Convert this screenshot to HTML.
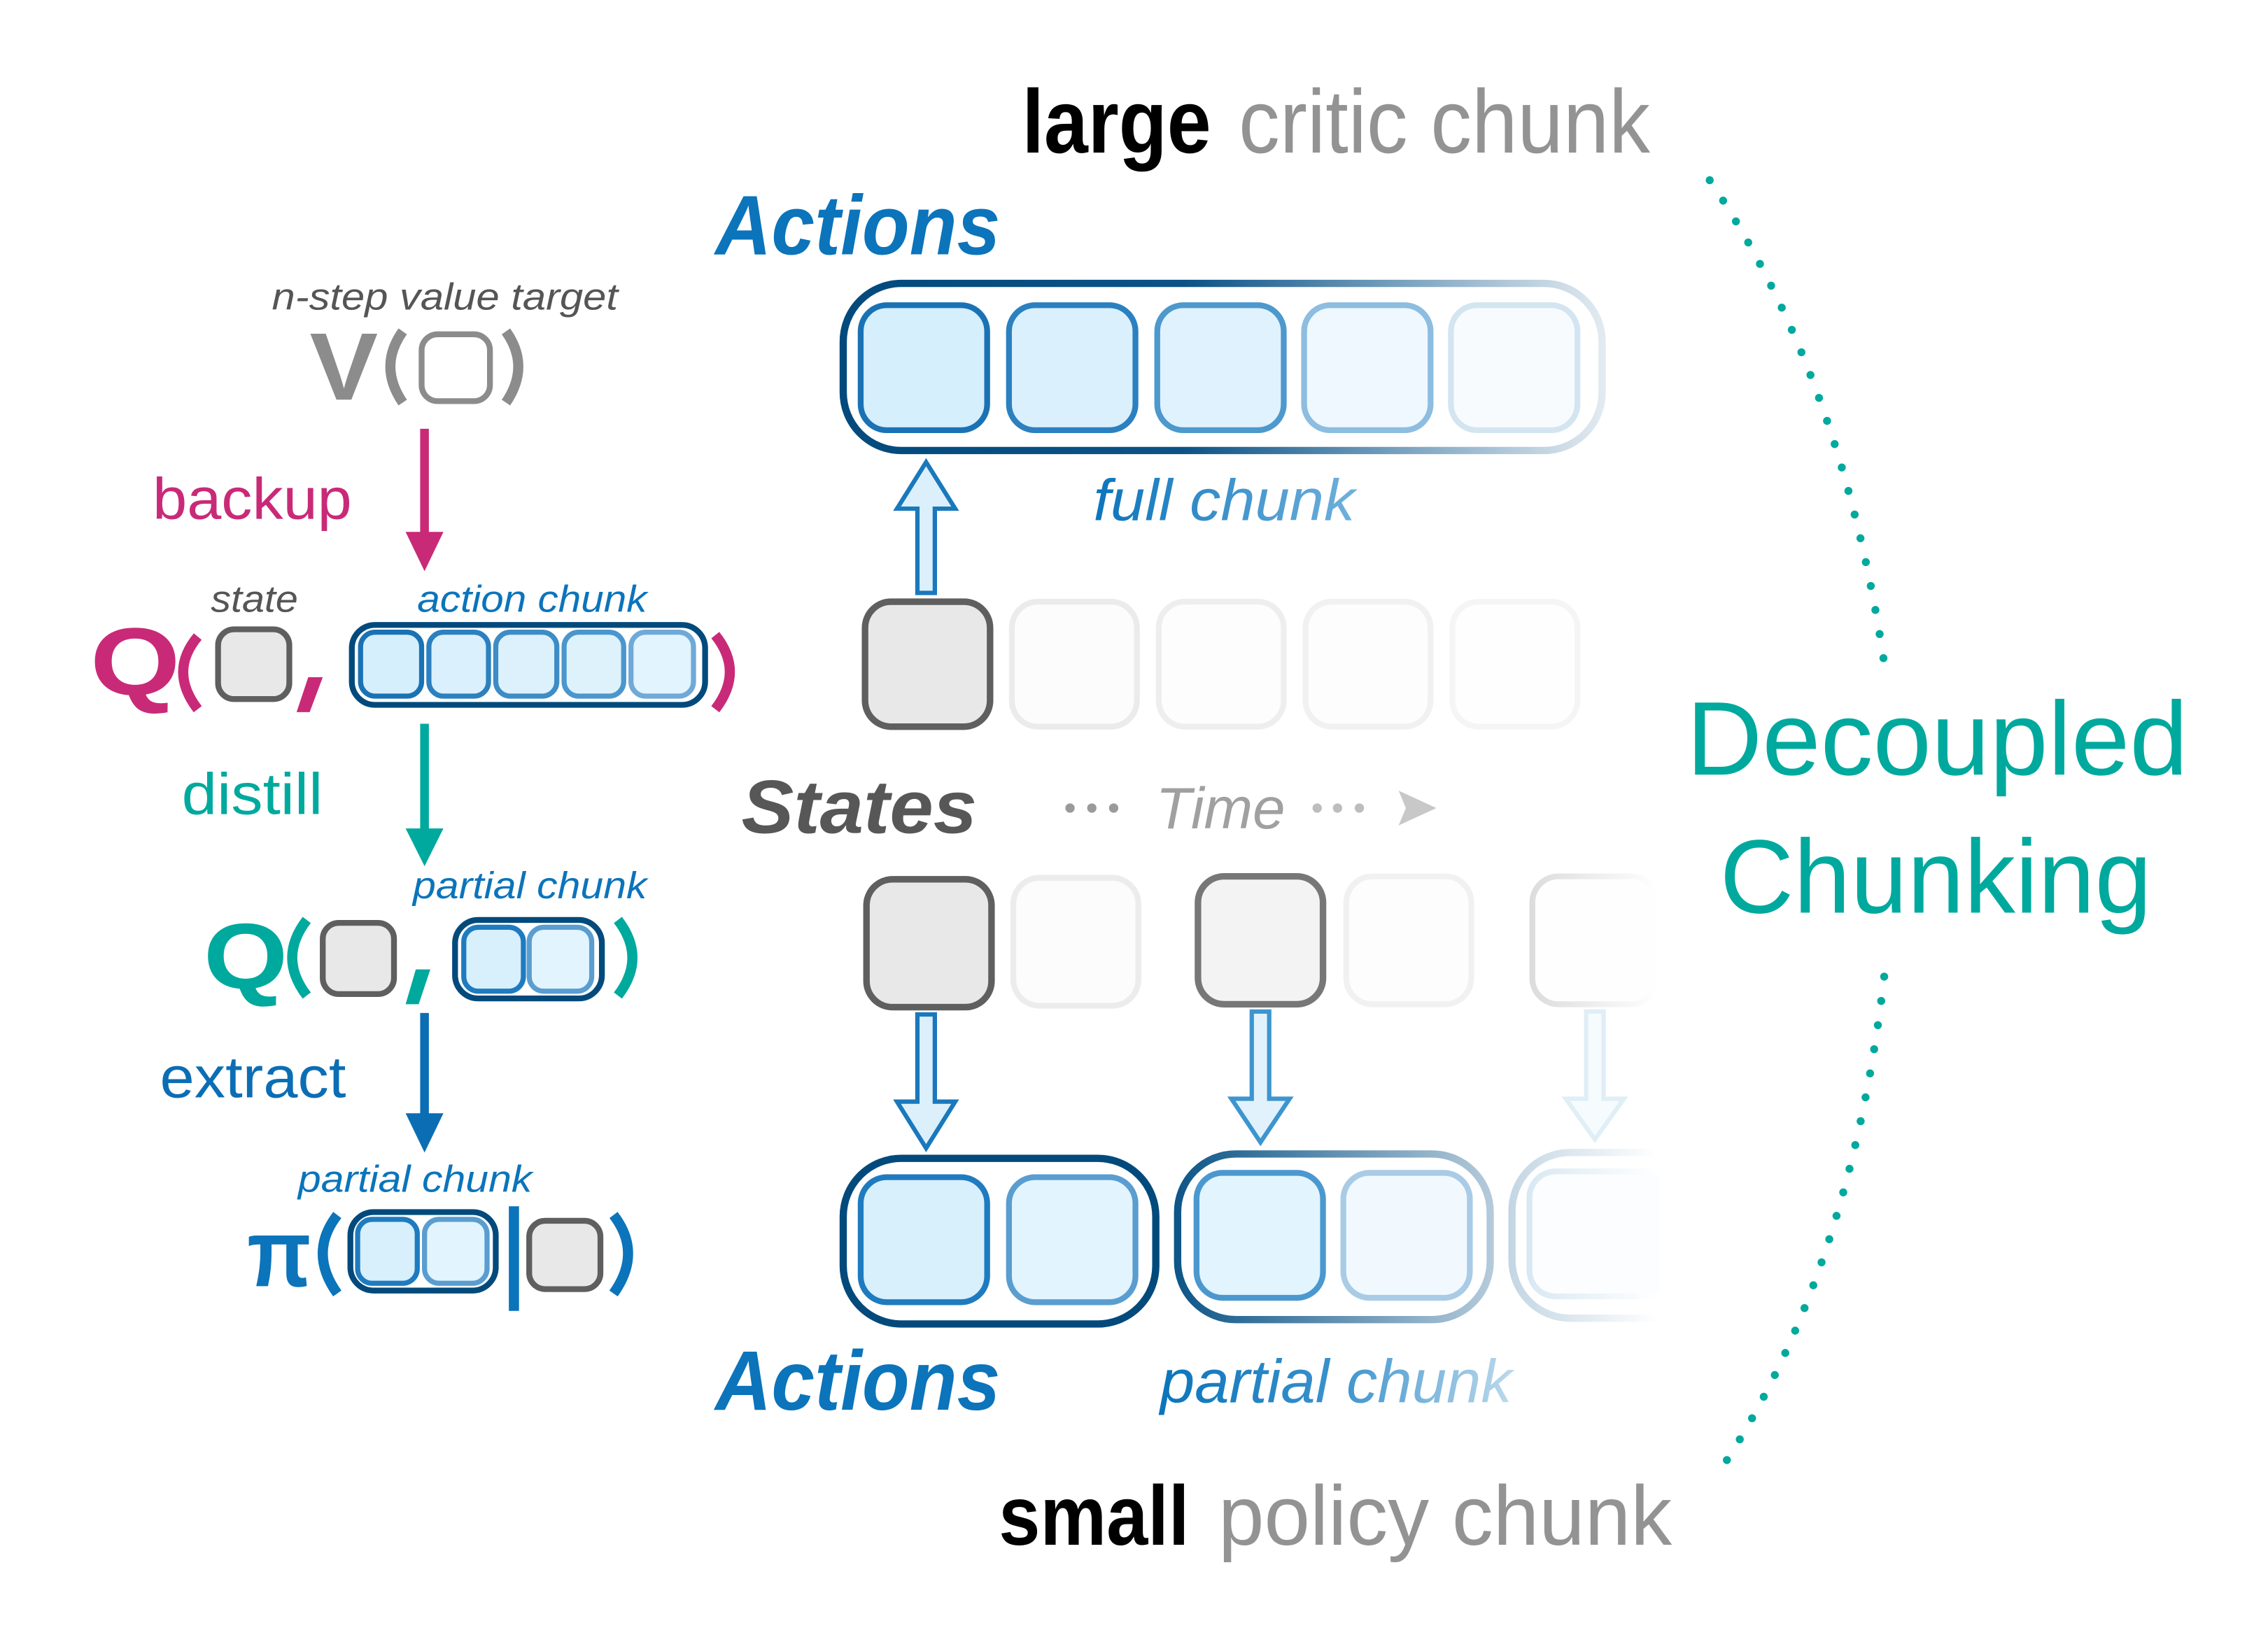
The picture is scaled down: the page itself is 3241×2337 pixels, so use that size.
<!DOCTYPE html>
<html><head><meta charset="utf-8"><style>html,body{margin:0;padding:0;background:#fff}svg{display:block}</style></head>
<body>
<svg width="3241" height="2337" viewBox="0 0 1560 1125" preserveAspectRatio="none" xmlns="http://www.w3.org/2000/svg" font-family="Liberation Sans, sans-serif">
<defs>
<linearGradient id="topOuter" gradientUnits="userSpaceOnUse" x1="578" y1="0" x2="1104" y2="0">
<stop offset="0" stop-color="#034a7c"/><stop offset="0.45" stop-color="#0c5286"/><stop offset="0.75" stop-color="#7fa6c2"/><stop offset="1" stop-color="#e3ebf1"/></linearGradient>
<linearGradient id="b2Outer" gradientUnits="userSpaceOnUse" x1="808" y1="0" x2="1027" y2="0">
<stop offset="0" stop-color="#0d5587"/><stop offset="1" stop-color="#b5cbdb"/></linearGradient>
<linearGradient id="b3Outer" gradientUnits="userSpaceOnUse" x1="1038" y1="0" x2="1140" y2="0">
<stop offset="0" stop-color="#c3d6e3"/><stop offset="1" stop-color="#ffffff"/></linearGradient>
<linearGradient id="b3Inner" gradientUnits="userSpaceOnUse" x1="1050" y1="0" x2="1140" y2="0">
<stop offset="0" stop-color="#d8e8f3"/><stop offset="1" stop-color="#ffffff"/></linearGradient>
<linearGradient id="s5" gradientUnits="userSpaceOnUse" x1="1053" y1="0" x2="1140" y2="0">
<stop offset="0" stop-color="#dcdcdc"/><stop offset="1" stop-color="#ffffff"/></linearGradient>
<linearGradient id="pc" gradientUnits="userSpaceOnUse" x1="798" y1="0" x2="1040" y2="0">
<stop offset="0" stop-color="#0b74bb"/><stop offset="0.5" stop-color="#3a92cc"/><stop offset="1" stop-color="#bcd9ec"/></linearGradient>
<linearGradient id="fc" gradientUnits="userSpaceOnUse" x1="752" y1="0" x2="932" y2="0">
<stop offset="0" stop-color="#0b74bb"/><stop offset="1" stop-color="#6fb0db"/></linearGradient>
</defs>

<!-- dotted arcs -->
<path d="M1176 124 Q1268 260 1297 463" fill="none" stroke="#00a99d" stroke-width="5.5" stroke-linecap="round" stroke-dasharray="0 16.8"/>
<path d="M1296 672 Q1272 880 1181 1015" fill="none" stroke="#00a99d" stroke-width="5.5" stroke-linecap="round" stroke-dasharray="0 16.8"/>

<text x="1160" y="533" font-size="72" fill="#00a99d" textLength="345" lengthAdjust="spacingAndGlyphs">Decoupled</text>
<text x="1183" y="628" font-size="72" fill="#00a99d" textLength="297" lengthAdjust="spacingAndGlyphs">Chunking</text>

<!-- titles -->
<text x="703" y="105" font-size="62" font-weight="bold" fill="#000" textLength="130" lengthAdjust="spacingAndGlyphs">large</text>
<text x="852" y="105" font-size="62" fill="#939393" textLength="283" lengthAdjust="spacingAndGlyphs">critic chunk</text>
<text x="492" y="175" font-size="58" font-weight="bold" font-style="italic" fill="#0b74bb" textLength="196" lengthAdjust="spacingAndGlyphs">Actions</text>

<!-- top full chunk -->
<rect x="580" y="195" width="522" height="115" rx="40" fill="none" stroke="url(#topOuter)" stroke-width="5"/>
<rect x="592" y="210" width="87" height="86" rx="18" fill="#d6effc" stroke="#1a72b5" stroke-width="4"/>
<rect x="694" y="210" width="87" height="86" rx="18" fill="#daf0fc" stroke="#2b80c0" stroke-width="4"/>
<rect x="796" y="210" width="87" height="86" rx="18" fill="#e0f2fd" stroke="#4d98cc" stroke-width="4"/>
<rect x="897" y="210" width="87" height="86" rx="18" fill="#eef8fe" stroke="#8dbde0" stroke-width="4"/>
<rect x="998" y="210" width="87" height="86" rx="18" fill="#f8fbfe" stroke="#d3e5f1" stroke-width="4"/>

<!-- up arrow -->
<path d="M631 408 L631 350 L617 350 L637 318 L657 350 L643 350 L643 408 Z" fill="#dcf0fb" stroke="#1a78bd" stroke-width="3"/>
<text x="752" y="358" font-size="40" font-style="italic" fill="url(#fc)" textLength="180" lengthAdjust="spacingAndGlyphs">full chunk</text>

<!-- state row 1 -->
<rect x="595" y="414" width="86" height="86" rx="18" fill="#e8e8e8" stroke="#5f5f5f" stroke-width="4.5"/>
<rect x="696" y="414" width="86" height="86" rx="18" fill="#fcfcfc" stroke="#ebebeb" stroke-width="4"/>
<rect x="797" y="414" width="86" height="86" rx="18" fill="#fdfdfd" stroke="#eeeeee" stroke-width="4"/>
<rect x="898" y="414" width="86" height="86" rx="18" fill="#fdfdfd" stroke="#f1f1f1" stroke-width="4"/>
<rect x="999" y="414" width="86" height="86" rx="18" fill="#fefefe" stroke="#f5f5f5" stroke-width="4"/>

<!-- States / Time -->
<text x="510" y="573" font-size="52" font-weight="bold" font-style="italic" fill="#575757" textLength="162" lengthAdjust="spacingAndGlyphs">States</text>
<g fill="#9a9a9a"><circle cx="736" cy="556" r="3.2"/><circle cx="751" cy="556" r="3.2"/><circle cx="766" cy="556" r="3.2"/></g>
<text x="795" y="570" font-size="40" font-style="italic" fill="#a0a0a0" textLength="89" lengthAdjust="spacingAndGlyphs">Time</text>
<g fill="#bdbdbd"><circle cx="906" cy="556" r="3.2"/><circle cx="920" cy="556" r="3.2"/><circle cx="935" cy="556" r="3.2"/></g>
<path d="M962 544 L988 556 L962 568 L967 556 Z" fill="#c8c8c8"/>

<!-- state row 2 -->
<rect x="596" y="605" width="86" height="88" rx="18" fill="#e8e8e8" stroke="#5f5f5f" stroke-width="4.5"/>
<rect x="697" y="604" width="86" height="88" rx="18" fill="#fcfcfc" stroke="#ececec" stroke-width="4"/>
<rect x="824" y="603" width="86" height="88" rx="18" fill="#f3f3f3" stroke="#777777" stroke-width="4.5"/>
<rect x="926" y="603" width="86" height="88" rx="18" fill="#fdfdfd" stroke="#f1f1f1" stroke-width="4"/>
<rect x="1054" y="603" width="86" height="88" rx="18" fill="#fefefe" stroke="url(#s5)" stroke-width="4"/>

<!-- down arrows -->
<path d="M631 698 L631 758 L617 758 L637 790 L657 758 L643 758 L643 698 Z" fill="#dcf0fb" stroke="#1a78bd" stroke-width="3"/>
<path d="M861 696 L861 756 L847 756 L867 786 L887 756 L873 756 L873 696 Z" fill="#e2f2fc" stroke="#3d95cf" stroke-width="3"/>
<path d="M1091 696 L1091 756 L1077 756 L1097 784 L1117 756 L1103 756 L1103 696 Z" fill="#f6fbfe" stroke="#e0eef6" stroke-width="3"/>

<!-- bottom chunks -->
<rect x="580" y="797" width="215" height="114" rx="40" fill="none" stroke="#034a7c" stroke-width="5"/>
<rect x="592" y="810" width="87" height="86" rx="18" fill="#d8effc" stroke="#1f7bbf" stroke-width="4"/>
<rect x="694" y="810" width="87" height="86" rx="18" fill="#e2f4fd" stroke="#5a9dd0" stroke-width="4"/>

<rect x="810" y="794" width="215" height="114" rx="40" fill="none" stroke="url(#b2Outer)" stroke-width="5"/>
<rect x="823" y="807" width="87" height="86" rx="18" fill="#e2f4fd" stroke="#4b98cf" stroke-width="4"/>
<rect x="924" y="807" width="87" height="86" rx="18" fill="#f1f9fe" stroke="#a9cbe6" stroke-width="4"/>

<rect x="1040" y="793" width="140" height="114" rx="40" fill="none" stroke="url(#b3Outer)" stroke-width="5"/>
<rect x="1052" y="806" width="100" height="86" rx="18" fill="#fbfdfe" stroke="url(#b3Inner)" stroke-width="4"/>
<rect x="1141" y="780" width="60" height="140" fill="#fff"/>

<text x="492" y="970" font-size="58" font-weight="bold" font-style="italic" fill="#0b74bb" textLength="196" lengthAdjust="spacingAndGlyphs">Actions</text>
<text x="798" y="965" font-size="42" font-style="italic" fill="url(#pc)" textLength="242" lengthAdjust="spacingAndGlyphs">partial chunk</text>

<text x="687" y="1063" font-size="58" font-weight="bold" fill="#000" textLength="131" lengthAdjust="spacingAndGlyphs">small</text>
<text x="838" y="1063" font-size="58" fill="#939393" textLength="312" lengthAdjust="spacingAndGlyphs">policy chunk</text>

<!-- LEFT PANEL -->
<text x="187" y="213" font-size="26" font-style="italic" fill="#555" textLength="238" lengthAdjust="spacingAndGlyphs">n-step value target</text>
<text x="213" y="275" font-size="66" font-weight="bold" fill="#8c8c8c" textLength="47" lengthAdjust="spacingAndGlyphs">V</text>
<path d="M277 228 Q260 252 277 277" fill="none" stroke="#8c8c8c" stroke-width="7"/>
<rect x="290" y="230" width="47" height="46" rx="11" fill="#fff" stroke="#8c8c8c" stroke-width="4"/>
<path d="M348 228 Q365 252 348 277" fill="none" stroke="#8c8c8c" stroke-width="7"/>

<line x1="292" y1="295" x2="292" y2="368" stroke="#c92a78" stroke-width="6"/>
<path d="M279 366 L305 366 L292 393 Z" fill="#c92a78"/>
<text x="105" y="357" font-size="40" fill="#c92a78" textLength="137" lengthAdjust="spacingAndGlyphs">backup</text>

<text x="145" y="421" font-size="26" font-style="italic" fill="#555" textLength="60" lengthAdjust="spacingAndGlyphs">state</text>
<text x="287" y="421" font-size="26" font-style="italic" fill="#0b74bb" textLength="158" lengthAdjust="spacingAndGlyphs">action chunk</text>

<text x="62" y="478" font-size="66" font-weight="bold" fill="#c92a78" textLength="62" lengthAdjust="spacingAndGlyphs">Q</text>
<path d="M136 438 Q116 462 136 488" fill="none" stroke="#c92a78" stroke-width="7"/>
<rect x="150" y="433" width="49" height="48" rx="11" fill="#e8e8e8" stroke="#5f5f5f" stroke-width="4"/>
<path d="M212 466 L222 466 L213 490 L204 490 Z" fill="#c92a78"/>
<rect x="242" y="430" width="243" height="55" rx="16" fill="none" stroke="#034a7c" stroke-width="4"/>
<rect x="248" y="435" width="42" height="44" rx="10" fill="#d6effc" stroke="#1a72b5" stroke-width="3.5"/>
<rect x="295" y="435" width="41" height="44" rx="10" fill="#daf0fc" stroke="#2b80c0" stroke-width="3.5"/>
<rect x="341" y="435" width="42" height="44" rx="10" fill="#dcf1fc" stroke="#3d8cc6" stroke-width="3.5"/>
<rect x="388" y="435" width="41" height="44" rx="10" fill="#def2fc" stroke="#4b96cc" stroke-width="3.5"/>
<rect x="434" y="435" width="43" height="44" rx="10" fill="#e2f4fd" stroke="#6fa9d8" stroke-width="3.5"/>
<path d="M492 437 Q512 462 492 488" fill="none" stroke="#c92a78" stroke-width="7"/>

<line x1="292" y1="498" x2="292" y2="572" stroke="#00a99d" stroke-width="6"/>
<path d="M279 570 L305 570 L292 596 Z" fill="#00a99d"/>
<text x="125" y="560" font-size="40" fill="#00a99d" textLength="97" lengthAdjust="spacingAndGlyphs">distill</text>

<text x="284" y="618" font-size="26" font-style="italic" fill="#0b74bb" textLength="161" lengthAdjust="spacingAndGlyphs">partial chunk</text>
<text x="140" y="680" font-size="64" font-weight="bold" fill="#00a99d" textLength="58" lengthAdjust="spacingAndGlyphs">Q</text>
<path d="M211 633 Q191 659 211 685" fill="none" stroke="#00a99d" stroke-width="7"/>
<rect x="222" y="635" width="49" height="49" rx="11" fill="#e8e8e8" stroke="#5f5f5f" stroke-width="4"/>
<path d="M286 667 L296 667 L288 691 L279 691 Z" fill="#00a99d"/>
<rect x="313" y="633" width="101" height="54" rx="16" fill="none" stroke="#034a7c" stroke-width="4"/>
<rect x="319" y="638" width="41" height="44" rx="10" fill="#d8effc" stroke="#1f7bbf" stroke-width="3.5"/>
<rect x="364" y="638" width="43" height="44" rx="10" fill="#e2f4fd" stroke="#5a9dd0" stroke-width="3.5"/>
<path d="M425 633 Q445 659 425 685" fill="none" stroke="#00a99d" stroke-width="7"/>

<line x1="292" y1="697" x2="292" y2="768" stroke="#0b6eb4" stroke-width="6"/>
<path d="M279 766 L305 766 L292 793 Z" fill="#0b6eb4"/>
<text x="110" y="755" font-size="40" fill="#0b6eb4" textLength="128" lengthAdjust="spacingAndGlyphs">extract</text>

<text x="205" y="820" font-size="26" font-style="italic" fill="#0b74bb" textLength="161" lengthAdjust="spacingAndGlyphs">partial chunk</text>
<text x="170" y="885" font-size="66" font-weight="bold" fill="#0b74bb" textLength="44" lengthAdjust="spacingAndGlyphs">π</text>
<path d="M232 836 Q212 862 232 890" fill="none" stroke="#0b74bb" stroke-width="7"/>
<rect x="241" y="834" width="100" height="54" rx="16" fill="none" stroke="#034a7c" stroke-width="4"/>
<rect x="246" y="839" width="41" height="44" rx="10" fill="#d8effc" stroke="#1f7bbf" stroke-width="3.5"/>
<rect x="292" y="839" width="43" height="44" rx="10" fill="#e2f4fd" stroke="#5a9dd0" stroke-width="3.5"/>
<rect x="350" y="830" width="7" height="72" fill="#0b74bb"/>
<rect x="364" y="840" width="49" height="47" rx="11" fill="#e8e8e8" stroke="#5f5f5f" stroke-width="4"/>
<path d="M422 836 Q442 862 422 890" fill="none" stroke="#0b74bb" stroke-width="7"/>
</svg>
</body></html>
